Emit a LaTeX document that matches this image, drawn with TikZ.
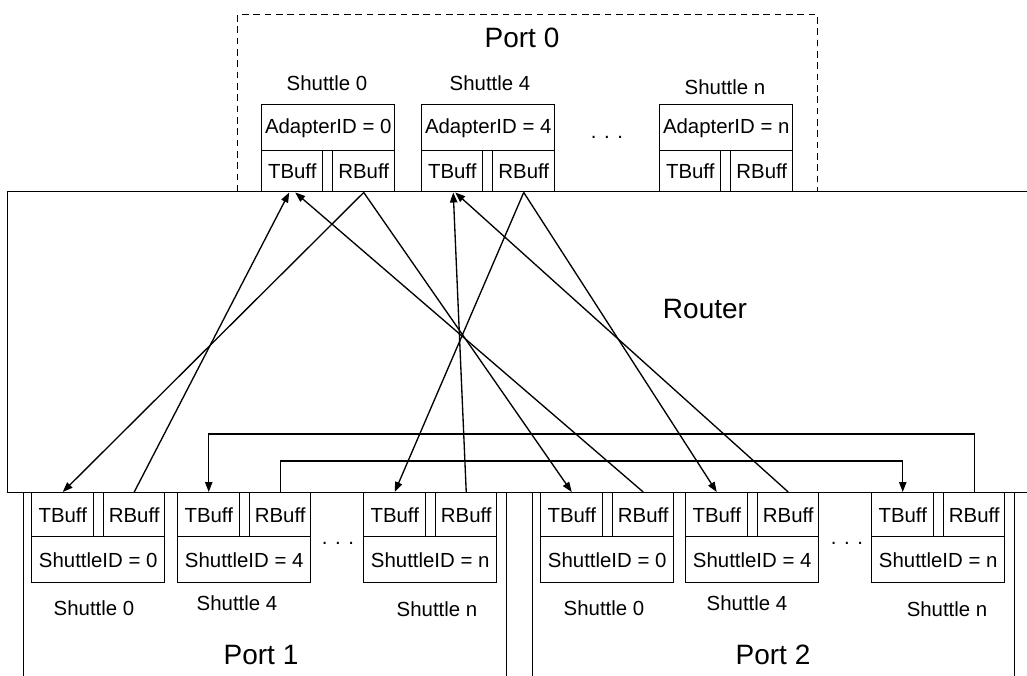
\documentclass[tikz,border=0pt]{standalone}
\usepackage{fontspec}
\setmainfont{Liberation Sans}
\usetikzlibrary{arrows.meta,calc}
\newcommand{\pxu}{0.75pt}
\tikzset{
  cell/.style={draw, line width=1.1pt, inner sep=0pt, anchor=north west,
    font=\fontsize{15.3}{18}\selectfont},
  frame/.style={draw, line width=1.1pt, inner sep=0pt, anchor=north west},
  lbl/.style={inner sep=0pt, font=\fontsize{15.3}{18}\selectfont},
  biglbl/.style={inner sep=0pt, font=\fontsize{21}{25}\selectfont},
  arr/.style={line width=1pt, -{Triangle[length=7.5pt,width=5.5pt]}},
}
% Shuttle with its ID row on top and the buffer row below
% #1 name, #2 left x, #3 top y, #4 ID text
\newcommand{\upshuttle}[4]{%
  \node[cell, minimum width=133*\pxu, minimum height=46*\pxu] (#1id) at (#2,#3) {#4};
  \node[cell, minimum width=61*\pxu, minimum height=41*\pxu] (#1tb) at (#2,#3+46) {TBuff};
  \node[cell, minimum width=10*\pxu, minimum height=41*\pxu] (#1gap) at (#2+61,#3+46) {};
  \node[cell, minimum width=62*\pxu, minimum height=41*\pxu] (#1rb) at (#2+71,#3+46) {RBuff};
}
% Shuttle with the buffer row on top and its ID row below
\newcommand{\downshuttle}[4]{%
  \node[cell, minimum width=62*\pxu, minimum height=44*\pxu] (#1tb) at (#2,#3) {TBuff};
  \node[cell, minimum width=10*\pxu, minimum height=44*\pxu] (#1gap) at (#2+62,#3) {};
  \node[cell, minimum width=61*\pxu, minimum height=44*\pxu] (#1rb) at (#2+72,#3) {RBuff};
  \node[cell, minimum width=133*\pxu, minimum height=46*\pxu] (#1id) at (#2,#3+44) {#4};
}
\begin{document}
\begin{tikzpicture}[x=0.75pt, y=-0.75pt]
\useasboundingbox (0,0) rectangle (1027,675);

% Port 0 (dashed container)
\node[frame, dash pattern=on 5pt off 3.5pt, minimum width=580*\pxu, minimum height=177*\pxu] (port0) at (237,14) {};
\node[biglbl] (port0lbl) at (522,38) {Port 0};

% Router
\node[frame, fill=white, minimum width=1060*\pxu, minimum height=301*\pxu] (router) at (7,191) {};
\node[biglbl] (routerlbl) at (705,309) {Router};

% Ports 1 and 2
\node[frame, minimum width=483*\pxu, minimum height=230*\pxu] (port1) at (23,492) {};
\node[frame, minimum width=482*\pxu, minimum height=230*\pxu] (port2) at (532,492) {};
\node[biglbl] (port1lbl) at (261,655) {Port 1};
\node[biglbl] (port2lbl) at (773,655) {Port 2};

% Shuttles of port 0
\upshuttle{A0}{261}{104}{AdapterID = 0}
\upshuttle{A4}{421}{104}{AdapterID = 4}
\upshuttle{An}{659}{104}{AdapterID = n}
\node[lbl] (A0lbl) at (327,83) {Shuttle 0};
\node[lbl] (A4lbl) at (490,83) {Shuttle 4};
\node[lbl] (Anlbl) at (725,87) {Shuttle n};
\node[lbl] (Adots) at (607,137) {. . .};

% Shuttles of port 1
\downshuttle{B0}{31}{492}{ShuttleID = 0}
\downshuttle{B4}{177}{492}{ShuttleID = 4}
\downshuttle{Bn}{363}{492}{ShuttleID = n}
\node[lbl] (B0lbl) at (94,608) {Shuttle 0};
\node[lbl] (B4lbl) at (237,603) {Shuttle 4};
\node[lbl] (Bnlbl) at (437,609) {Shuttle n};
\node[lbl] (Bdots) at (338,543) {. . .};

% Shuttles of port 2
\downshuttle{C0}{540}{492}{ShuttleID = 0}
\downshuttle{C4}{685}{492}{ShuttleID = 4}
\downshuttle{Cn}{871}{492}{ShuttleID = n}
\node[lbl] (C0lbl) at (604,608) {Shuttle 0};
\node[lbl] (C4lbl) at (747,603) {Shuttle 4};
\node[lbl] (Cnlbl) at (947,609) {Shuttle n};
\node[lbl] (Cdots) at (847,543) {. . .};

% Routes through the router
\draw[arr] (A0rb.south) -- (B0tb.north);
\draw[arr] (A0rb.south) -- (C0tb.north);
\draw[arr] (B0rb.north) -- ($(A0tb.south)+(-3,0)$);
\draw[arr] (C0rb.north) -- ($(A0tb.south)+(3,0)$);
\draw[arr] (A4rb.south) -- (Bntb.north);
\draw[arr] (A4rb.south) -- (C4tb.north);
\draw[arr] (Bnrb.north) -- ($(A4tb.south)+(1,0)$);
\draw[arr] (C4rb.north) -- ($(A4tb.south)+(3,0)$);
\draw[arr] (B4rb.north) -- ++(0,-31) -| (Cntb.north);
\draw[arr] (Cnrb.north) -- ++(0,-58) -| (B4tb.north);
\end{tikzpicture}
\end{document}
